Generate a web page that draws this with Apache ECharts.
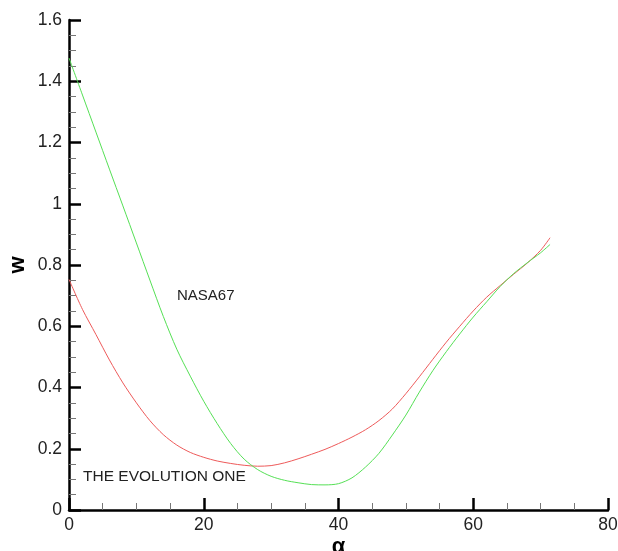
<!DOCTYPE html>
<html>
<head>
<meta charset="utf-8">
<script src="https://cdn.jsdelivr.net/npm/echarts@6/dist/echarts.min.js"></script>
<style>
  html, body { margin: 0; padding: 0; background: #fff; }
  #chart { width: 618px; height: 551px; }
</style>
</head>
<body>
<div id="chart"></div>
<script>
// angle of attack (deg) sampled along each curve
var alphaEvolution = [0, 2, 4, 6, 8, 10, 12, 14, 16, 18, 20, 22, 24, 26, 28, 30, 32, 34, 36, 38, 40,
  42, 44, 46, 48, 50, 52, 54, 56, 58, 60, 62, 64, 66, 68, 70, 71.4];
var wEvolution = [0.753, 0.655, 0.573, 0.49, 0.415, 0.35, 0.292, 0.246, 0.212, 0.188, 0.172, 0.16, 0.152,
  0.146, 0.143, 0.145, 0.154, 0.167, 0.182, 0.198, 0.217, 0.238, 0.262, 0.292, 0.33, 0.38, 0.435,
  0.492, 0.548, 0.6, 0.65, 0.695, 0.733, 0.77, 0.806, 0.848, 0.889];

var alphaNasa = [0, 2, 4, 6, 8, 10, 12, 14, 16, 18, 20, 22, 24, 26, 28, 30, 32, 34, 36, 38, 40,
  42, 44, 46, 48, 50, 52, 54, 56, 58, 60, 62, 64, 66, 68, 70, 71.4];
var wNasa = [1.476, 1.355, 1.234, 1.113, 0.993, 0.872, 0.751, 0.632, 0.525, 0.437, 0.355, 0.282, 0.217,
  0.166, 0.132, 0.11, 0.097, 0.089, 0.083, 0.082, 0.086, 0.105, 0.14, 0.185, 0.245, 0.31, 0.385,
  0.455, 0.517, 0.575, 0.63, 0.68, 0.73, 0.772, 0.807, 0.84, 0.867];

function pairs(xs, ys) {
  return xs.map(function (x, i) { return [x, ys[i]]; });
}

var font = 'Liberation Sans, Arial, sans-serif';

var axisCommon = {
  axisLine: { onZero: false, lineStyle: { color: '#000', width: 2.5 } },
  axisTick: { inside: true, length: 12, lineStyle: { color: '#000', width: 2.5 } },
  minorTick: { show: true, splitNumber: 4, length: 7, lineStyle: { color: '#777', width: 1 } },
  splitLine: { show: false },
  nameMoveOverlap: false
};

var myChart = echarts.init(document.getElementById('chart'));
var option = {
  animation: false,
  backgroundColor: '#fff',
  grid: { left: 69, right: 10, top: 20, bottom: 41, containLabel: false, outerBoundsMode: 'none' },
  xAxis: Object.assign({}, axisCommon, {
    type: 'value', min: 0, max: 80, interval: 20,
    name: 'α', nameLocation: 'middle', nameGap: 26,
    nameTextStyle: { fontSize: 22, fontWeight: 'bold', color: '#000', fontFamily: font },
    axisLabel: { color: '#222', fontSize: 17.5, fontFamily: font, margin: 6 }
  }),
  yAxis: Object.assign({}, axisCommon, {
    type: 'value', min: 0, max: 1.6, interval: 0.2,
    name: 'w', nameLocation: 'middle', nameGap: 40,
    nameTextStyle: { fontSize: 22, fontWeight: 'bold', color: '#000', fontFamily: font },
    axisLabel: {
      color: '#222', fontSize: 17.5, fontFamily: font, margin: 7,
      formatter: function (v) { return String(Math.round(v * 10) / 10); }
    }
  }),
  graphic: [
    { type: 'text', left: 177, top: 288, style: { text: 'NASA67', fontSize: 15, fontFamily: font, fill: '#222' } },
    { type: 'text', left: 83, top: 469, style: { text: 'THE EVOLUTION ONE', fontSize: 15.5, fontFamily: font, fill: '#222' } }
  ],
  series: [
    {
      name: 'THE EVOLUTION ONE', type: 'line', smooth: 0.3, showSymbol: false,
      lineStyle: { color: '#ee5a5a', width: 1 },
      data: pairs(alphaEvolution, wEvolution)
    },
    {
      name: 'NASA67', type: 'line', smooth: 0.3, showSymbol: false,
      lineStyle: { color: '#55e055', width: 1 },
      data: pairs(alphaNasa, wNasa)
    }
  ]
};
myChart.setOption(option);
</script>
</body>
</html>
